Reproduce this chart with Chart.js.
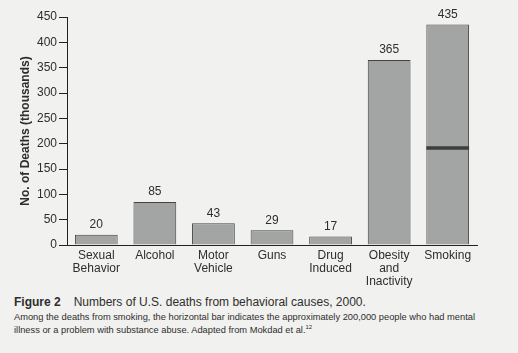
<!DOCTYPE html>
<html>
<head>
<meta charset="utf-8">
<script src="https://cdn.jsdelivr.net/npm/chart.js@4/dist/chart.umd.min.js"></script>
<style>
  body { margin: 0; background: #f1f1ef; font-family: "Liberation Sans", Arial, sans-serif; color: #2e2e2e; }
  #wrap { position: absolute; left: 0; top: 0; width: 518px; height: 292px; }
  .cap { position: absolute; left: 14px; top: 295px; font-size: 12px; white-space: nowrap; }
  .cap b { margin-right: 13px; }
  .note { position: absolute; left: 14px; top: 313px; font-size: 9.3px; line-height: 9.5px; width: 485px; }
</style>
</head>
<body>
<div id="wrap"><canvas id="chart"></canvas></div>
<div class="cap"><b>Figure 2</b>Numbers of U.S. deaths from behavioral causes, 2000.</div>
<div class="note">Among the deaths from smoking, the horizontal bar indicates the approximately 200,000 people who had mental illness or a problem with substance abuse. Adapted from Mokdad et al.<sup style="font-size:6px">12</sup></div>
<script>
const categories = [['Sexual', 'Behavior'], 'Alcohol', ['Motor', 'Vehicle'], 'Guns', ['Drug', 'Induced'], ['Obesity', 'and', 'Inactivity'], 'Smoking'];
const deaths = [20, 85, 43, 29, 17, 365, 435];
// dark band inside the smoking bar (~200,000 with mental illness / substance abuse)
const smokingBand = [null, null, null, null, null, null, [188, 195]];
const yTicks = [0, 50, 100, 150, 200, 250, 300, 350, 400, 450];

Chart.defaults.font.family = '"Liberation Sans", Arial, sans-serif';
Chart.defaults.color = '#2e2e2e';

const valueLabels = {
    id: 'valueLabels',
    afterDatasetsDraw(chart) {
        const ctx = chart.ctx;
        const meta = chart.getDatasetMeta(0);
        ctx.save();
        ctx.font = '12px "Liberation Sans", Arial, sans-serif';
        ctx.fillStyle = '#2e2e2e';
        ctx.textAlign = 'center';
        ctx.textBaseline = 'bottom';
        meta.data.forEach((bar, i) => {
            ctx.fillText(deaths[i], bar.x, bar.y - 4);
        });
        ctx.restore();
    }
};

new Chart(document.getElementById('chart'), {
    type: 'bar',
    data: {
        labels: categories,
        datasets: [{
            data: deaths,
            backgroundColor: '#a3a5a4',
            borderColor: '#444',
            borderWidth: 1,
            barPercentage: 0.73,
            categoryPercentage: 1,
            order: 2
        }, {
            data: smokingBand,
            backgroundColor: '#3b3f3d',
            borderWidth: 0,
            grouped: false,
            barPercentage: 0.73,
            categoryPercentage: 1,
            order: 1
        }]
    },
    options: {
        responsive: true,
        maintainAspectRatio: false,
        animation: false,
        layout: { padding: { left: 18, right: 41, top: 17, bottom: 0 } },
        plugins: { legend: { display: false }, tooltip: { enabled: false } },
        scales: {
            x: {
                grid: { display: false, drawTicks: false },
                border: { display: true, color: '#222', width: 1 },
                ticks: { font: { size: 12, lineHeight: 1.1 }, padding: 4, maxRotation: 0, autoSkip: false },
                afterFit: s => { s.height = 47; }
            },
            y: {
                min: 0,
                max: 450,
                afterBuildTicks: s => { s.ticks = yTicks.map(v => ({ value: v })); },
                grid: { drawOnChartArea: false, tickLength: 8, color: '#222' },
                border: { display: true, color: '#222', width: 1 },
                ticks: { font: { size: 12 }, padding: 2 },
                title: {
                    display: true,
                    text: 'No. of Deaths (thousands)',
                    font: { size: 12, weight: 'bold' },
                    padding: 0
                },
                afterFit: s => { s.width = 49; }
            }
        }
    },
    plugins: [valueLabels]
});
</script>
</body>
</html>
